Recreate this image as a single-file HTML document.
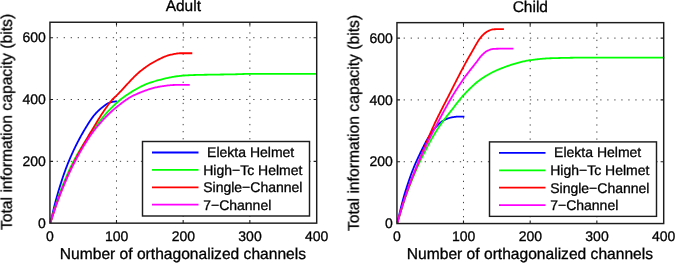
<!DOCTYPE html><html><head><meta charset="utf-8"><title>Information capacity</title>
<style>html,body{margin:0;padding:0;background:#fff}svg{display:block}text{text-rendering:geometricPrecision;font-family:"Liberation Sans",sans-serif;fill:#000;stroke:#000;stroke-width:0.3px}</style></head><body>
<svg width="675" height="263" viewBox="0 0 675 263">
<rect width="675" height="263" fill="#fff"/>
<defs><filter id="gs" x="0" y="0" width="100%" height="100%" filterUnits="userSpaceOnUse" color-interpolation-filters="sRGB"><feColorMatrix type="saturate" values="0"/></filter></defs>
<g transform="translate(0 0.0)">
<g stroke="#444" stroke-width="1.0" fill="none">
<path stroke-dasharray="1.3 5.75" d="M116.49 216.90V22.25"/>
<path stroke-dasharray="1.3 5.75" d="M183.17 216.90V22.25"/>
<path stroke-dasharray="1.3 5.75" d="M249.86 216.90V22.25"/>
<path stroke-dasharray="1.3 5.72" d="M56.65 161.33H314.70"/>
<path stroke-dasharray="1.3 5.72" d="M56.65 99.52H314.70"/>
<path stroke-dasharray="1.3 5.72" d="M56.65 37.70H314.70"/>
</g>
<g fill="none" stroke-width="1.8" stroke-linejoin="round">
<polyline stroke="#0000ff" points="50.50,222.50 50.92,220.65 51.34,218.82 51.76,217.00 52.18,215.19 52.60,213.41 53.02,211.65 53.44,209.90 53.86,208.18 54.28,206.48 54.69,204.81 55.11,203.17 55.53,201.55 55.95,199.97 56.37,198.41 56.79,196.89 57.21,195.40 57.63,193.95 58.05,192.53 58.47,191.11 58.89,189.72 59.31,188.33 59.73,186.96 60.15,185.61 60.57,184.27 60.99,182.95 61.41,181.64 61.83,180.35 62.25,179.07 62.67,177.81 63.08,176.56 63.50,175.33 63.92,174.12 64.34,172.92 64.76,171.74 65.18,170.58 65.60,169.43 66.02,168.30 66.44,167.19 66.86,166.09 67.28,165.01 67.70,163.95 68.12,162.91 68.54,161.88 68.96,160.87 69.38,159.88 69.80,158.89 70.22,157.92 70.64,156.95 71.06,156.00 71.47,155.05 71.89,154.11 72.31,153.19 72.73,152.27 73.15,151.36 73.57,150.46 73.99,149.57 74.41,148.69 74.83,147.82 75.25,146.96 75.67,146.10 76.09,145.25 76.51,144.42 76.93,143.58 77.35,142.76 77.77,141.95 78.19,141.14 78.61,140.34 79.03,139.54 79.45,138.76 79.86,137.98 80.28,137.21 80.70,136.44 81.12,135.68 81.54,134.93 81.96,134.19 82.38,133.45 82.80,132.71 83.22,131.99 83.64,131.27 84.06,130.55 84.48,129.84 84.90,129.13 85.32,128.44 85.74,127.74 86.16,127.05 86.58,126.36 87.00,125.68 87.42,125.00 87.83,124.33 88.25,123.66 88.67,123.00 89.09,122.35 89.51,121.70 89.93,121.07 90.35,120.44 90.77,119.82 91.19,119.21 91.61,118.61 92.03,118.03 92.45,117.45 92.87,116.89 93.29,116.34 93.71,115.80 94.13,115.28 94.55,114.78 94.97,114.29 95.39,113.81 95.81,113.35 96.22,112.90 96.64,112.45 97.06,112.02 97.48,111.60 97.90,111.18 98.32,110.78 98.74,110.38 99.16,110.00 99.58,109.62 100.00,109.25 100.42,108.88 100.84,108.53 101.26,108.18 101.68,107.84 102.10,107.50 102.52,107.17 102.94,106.84 103.36,106.52 103.78,106.19 104.20,105.86 104.61,105.54 105.03,105.23 105.45,104.92 105.87,104.63 106.29,104.34 106.71,104.08 107.13,103.82 107.55,103.59 107.97,103.37 108.39,103.17 108.81,103.00 109.23,102.84 109.65,102.69 110.07,102.54 110.49,102.40 110.91,102.27 111.33,102.16 111.75,102.05 112.17,101.95 112.59,101.86 113.00,101.79 113.42,101.72 113.84,101.66 114.26,101.60 114.68,101.54 115.10,101.49 115.52,101.44 115.94,101.40 116.36,101.37 116.78,101.34 117.20,101.33"/>
<polyline stroke="#00ff00" points="50.50,222.50 51.39,219.40 52.28,216.34 53.17,213.33 54.06,210.37 54.95,207.48 55.85,204.65 56.74,201.91 57.63,199.24 58.52,196.67 59.41,194.19 60.30,191.79 61.19,189.43 62.08,187.11 62.97,184.84 63.86,182.60 64.76,180.41 65.65,178.27 66.54,176.17 67.43,174.11 68.32,172.10 69.21,170.14 70.10,168.22 70.99,166.35 71.88,164.53 72.77,162.76 73.67,161.04 74.56,159.36 75.45,157.72 76.34,156.10 77.23,154.51 78.12,152.95 79.01,151.42 79.90,149.91 80.79,148.43 81.68,146.98 82.57,145.55 83.47,144.14 84.36,142.75 85.25,141.38 86.14,140.04 87.03,138.71 87.92,137.40 88.81,136.10 89.70,134.82 90.59,133.56 91.48,132.31 92.38,131.07 93.27,129.84 94.16,128.62 95.05,127.42 95.94,126.22 96.83,125.03 97.72,123.86 98.61,122.70 99.50,121.55 100.39,120.41 101.29,119.29 102.18,118.19 103.07,117.10 103.96,116.03 104.85,114.98 105.74,113.95 106.63,112.93 107.52,111.94 108.41,110.97 109.30,110.02 110.19,109.09 111.09,108.19 111.98,107.31 112.87,106.44 113.76,105.58 114.65,104.74 115.54,103.91 116.43,103.09 117.32,102.29 118.21,101.50 119.10,100.73 120.00,99.98 120.89,99.25 121.78,98.54 122.67,97.84 123.56,97.17 124.45,96.52 125.34,95.90 126.23,95.29 127.12,94.71 128.01,94.14 128.91,93.56 129.80,93.00 130.69,92.44 131.58,91.88 132.47,91.33 133.36,90.79 134.25,90.26 135.14,89.74 136.03,89.22 136.92,88.72 137.81,88.22 138.71,87.73 139.60,87.26 140.49,86.80 141.38,86.34 142.27,85.91 143.16,85.48 144.05,85.07 144.94,84.67 145.83,84.28 146.72,83.92 147.62,83.56 148.51,83.22 149.40,82.90 150.29,82.60 151.18,82.31 152.07,82.04 152.96,81.77 153.85,81.51 154.74,81.25 155.63,80.99 156.53,80.74 157.42,80.49 158.31,80.24 159.20,80.00 160.09,79.76 160.98,79.53 161.87,79.30 162.76,79.07 163.65,78.85 164.54,78.64 165.43,78.43 166.33,78.22 167.22,78.02 168.11,77.83 169.00,77.64 169.89,77.46 170.78,77.29 171.67,77.12 172.56,76.96 173.45,76.80 174.34,76.65 175.24,76.51 176.13,76.38 177.02,76.25 177.91,76.13 178.80,76.02 179.69,75.92 180.58,75.82 181.47,75.74 182.36,75.66 183.25,75.59 184.14,75.52 185.04,75.46 185.93,75.40 186.82,75.35 187.71,75.30 188.60,75.25 189.49,75.20 190.38,75.16 191.27,75.12 192.16,75.09 193.05,75.05 193.95,75.02 194.84,74.99 195.73,74.97 196.62,74.94 197.51,74.92 198.40,74.90 199.29,74.88 200.18,74.85 201.07,74.83 201.96,74.82 202.86,74.80 203.75,74.78 204.64,74.76 205.53,74.75 206.42,74.73 207.31,74.71 208.20,74.70 209.09,74.68 209.98,74.67 210.87,74.66 211.76,74.64 212.66,74.63 213.55,74.62 214.44,74.61 215.33,74.59 216.22,74.58 217.11,74.57 218.00,74.56 218.89,74.54 219.78,74.53 220.67,74.52 221.57,74.51 222.46,74.49 223.35,74.48 224.24,74.47 225.13,74.45 226.02,74.44 226.91,74.43 227.80,74.41 228.69,74.40 229.58,74.38 230.48,74.37 231.37,74.35 232.26,74.33 233.15,74.31 234.04,74.30 234.93,74.28 235.82,74.25 236.71,74.23 237.60,74.20 238.49,74.17 239.38,74.14 240.28,74.11 241.17,74.08 242.06,74.05 242.95,74.02 243.84,73.99 244.73,73.96 245.62,73.94 246.51,73.92 247.40,73.90 248.29,73.89 249.19,73.88 250.08,73.88 250.97,73.88 251.86,73.88 252.75,73.88 253.64,73.88 254.53,73.88 255.42,73.88 256.31,73.88 257.20,73.88 258.10,73.88 258.99,73.88 259.88,73.88 260.77,73.88 261.66,73.88 262.55,73.88 263.44,73.88 264.33,73.88 265.22,73.88 266.11,73.88 267.00,73.88 267.90,73.88 268.79,73.88 269.68,73.88 270.57,73.88 271.46,73.88 272.35,73.88 273.24,73.88 274.13,73.88 275.02,73.88 275.91,73.88 276.81,73.88 277.70,73.88 278.59,73.88 279.48,73.88 280.37,73.88 281.26,73.88 282.15,73.88 283.04,73.88 283.93,73.88 284.82,73.88 285.72,73.88 286.61,73.88 287.50,73.88 288.39,73.88 289.28,73.88 290.17,73.88 291.06,73.88 291.95,73.88 292.84,73.88 293.73,73.88 294.62,73.88 295.52,73.88 296.41,73.88 297.30,73.88 298.19,73.88 299.08,73.88 299.97,73.88 300.86,73.88 301.75,73.88 302.64,73.88 303.53,73.88 304.43,73.88 305.32,73.88 306.21,73.88 307.10,73.88 307.99,73.88 308.88,73.88 309.77,73.88 310.66,73.88 311.55,73.88 312.44,73.88 313.34,73.88 314.23,73.88 315.12,73.88 316.01,73.88 316.90,73.88"/>
<polyline stroke="#ff0000" points="50.50,222.50 51.39,219.66 52.28,216.86 53.18,214.10 54.07,211.37 54.96,208.69 55.85,206.06 56.74,203.48 57.63,200.95 58.53,198.49 59.42,196.08 60.31,193.75 61.20,191.47 62.09,189.22 62.98,187.01 63.88,184.83 64.77,182.69 65.66,180.59 66.55,178.51 67.44,176.47 68.33,174.46 69.23,172.48 70.12,170.54 71.01,168.62 71.90,166.73 72.79,164.87 73.68,163.03 74.58,161.22 75.47,159.44 76.36,157.69 77.25,155.96 78.14,154.26 79.03,152.59 79.93,150.93 80.82,149.30 81.71,147.69 82.60,146.10 83.49,144.52 84.38,142.96 85.28,141.41 86.17,139.87 87.06,138.35 87.95,136.83 88.84,135.33 89.73,133.83 90.63,132.33 91.52,130.84 92.41,129.35 93.30,127.86 94.19,126.37 95.08,124.89 95.98,123.42 96.87,121.95 97.76,120.50 98.65,119.07 99.54,117.65 100.43,116.25 101.33,114.86 102.22,113.50 103.11,112.16 104.00,110.85 104.89,109.55 105.78,108.25 106.68,106.96 107.57,105.69 108.46,104.45 109.35,103.24 110.24,102.08 111.13,100.98 112.03,99.94 112.92,98.98 113.81,98.10 114.70,97.27 115.59,96.45 116.48,95.62 117.38,94.73 118.27,93.83 119.16,92.91 120.05,91.97 120.94,91.02 121.83,90.07 122.73,89.10 123.62,88.13 124.51,87.16 125.40,86.18 126.29,85.20 127.18,84.23 128.08,83.26 128.97,82.29 129.86,81.34 130.75,80.39 131.64,79.45 132.54,78.53 133.43,77.62 134.32,76.73 135.21,75.86 136.10,75.00 136.99,74.15 137.89,73.31 138.78,72.51 139.67,71.76 140.56,71.04 141.45,70.34 142.34,69.66 143.24,68.98 144.13,68.31 145.02,67.66 145.91,67.02 146.80,66.39 147.69,65.78 148.59,65.19 149.48,64.60 150.37,64.04 151.26,63.49 152.15,62.95 153.04,62.44 153.94,61.94 154.83,61.46 155.72,60.99 156.61,60.52 157.50,60.06 158.39,59.60 159.29,59.14 160.18,58.70 161.07,58.26 161.96,57.84 162.85,57.43 163.74,57.04 164.64,56.67 165.53,56.31 166.42,55.98 167.31,55.67 168.20,55.39 169.09,55.14 169.99,54.91 170.88,54.71 171.77,54.51 172.66,54.31 173.55,54.12 174.44,53.94 175.34,53.77 176.23,53.62 177.12,53.49 178.01,53.38 178.90,53.31 179.79,53.27 180.69,53.27 181.58,53.27 182.47,53.27 183.36,53.27 184.25,53.27 185.14,53.27 186.04,53.27 186.93,53.27 187.82,53.27 188.71,53.27 189.60,53.27 190.49,53.27 191.39,53.27 192.28,53.27"/>
<polyline stroke="#ff00ff" points="50.50,222.50 51.38,219.74 52.25,217.02 53.13,214.33 54.00,211.68 54.88,209.07 55.75,206.51 56.63,204.00 57.51,201.54 58.38,199.14 59.26,196.81 60.13,194.54 61.01,192.32 61.89,190.14 62.76,187.99 63.64,185.86 64.51,183.77 65.39,181.71 66.26,179.69 67.14,177.69 68.02,175.73 68.89,173.81 69.77,171.92 70.64,170.06 71.52,168.25 72.39,166.47 73.27,164.73 74.15,163.03 75.02,161.36 75.90,159.73 76.77,158.12 77.65,156.53 78.53,154.95 79.40,153.39 80.28,151.85 81.15,150.34 82.03,148.84 82.90,147.36 83.78,145.90 84.66,144.46 85.53,143.05 86.41,141.66 87.28,140.30 88.16,138.95 89.03,137.63 89.91,136.34 90.79,135.08 91.66,133.84 92.54,132.62 93.41,131.44 94.29,130.28 95.17,129.15 96.04,128.05 96.92,126.97 97.79,125.92 98.67,124.87 99.54,123.85 100.42,122.84 101.30,121.85 102.17,120.87 103.05,119.92 103.92,118.98 104.80,118.05 105.67,117.14 106.55,116.25 107.43,115.37 108.30,114.51 109.18,113.66 110.05,112.83 110.93,112.02 111.81,111.22 112.68,110.44 113.56,109.67 114.43,108.91 115.31,108.18 116.18,107.45 117.06,106.74 117.94,106.04 118.81,105.33 119.69,104.64 120.56,103.95 121.44,103.28 122.31,102.61 123.19,101.95 124.07,101.31 124.94,100.68 125.82,100.06 126.69,99.46 127.57,98.88 128.45,98.31 129.32,97.77 130.20,97.25 131.07,96.74 131.95,96.27 132.82,95.81 133.70,95.39 134.58,94.98 135.45,94.59 136.33,94.20 137.20,93.82 138.08,93.44 138.96,93.07 139.83,92.70 140.71,92.34 141.58,91.99 142.46,91.65 143.33,91.31 144.21,90.97 145.09,90.65 145.96,90.33 146.84,90.03 147.71,89.73 148.59,89.44 149.46,89.16 150.34,88.88 151.22,88.62 152.09,88.37 152.97,88.13 153.84,87.90 154.72,87.68 155.60,87.47 156.47,87.28 157.35,87.09 158.22,86.92 159.10,86.76 159.97,86.62 160.85,86.48 161.73,86.35 162.60,86.21 163.48,86.08 164.35,85.95 165.23,85.83 166.10,85.70 166.98,85.59 167.86,85.48 168.73,85.38 169.61,85.28 170.48,85.20 171.36,85.13 172.24,85.07 173.11,85.02 173.99,84.98 174.86,84.96 175.74,84.96 176.61,84.96 177.49,84.96 178.37,84.96 179.24,84.96 180.12,84.96 180.99,84.96 181.87,84.96 182.74,84.96 183.62,84.96 184.50,84.96 185.37,84.96 186.25,84.96 187.12,84.96 188.00,84.96 188.88,84.96 189.75,84.96"/>
</g>
<g stroke="#1c1c1c" stroke-width="1.45" fill="none">
<rect x="49.95" y="22.25" width="266.75" height="200.9"/>
<path stroke-width="1.1" d="M116.49 223.15v-3.1M116.49 22.25v3.1M183.17 223.15v-3.1M183.17 22.25v3.1M249.86 223.15v-3.1M249.86 22.25v3.1M49.95 161.33h3.1M316.7 161.33h-3.1M49.95 99.52h3.1M316.7 99.52h-3.1M49.95 37.70h3.1M316.7 37.70h-3.1"/>
</g>
<g font-size="14.0" filter="url(#gs)">
<text x="49.95" y="240.6" text-anchor="middle">0</text>
<text x="116.64" y="240.6" text-anchor="middle">100</text>
<text x="183.32" y="240.6" text-anchor="middle">200</text>
<text x="250.01" y="240.6" text-anchor="middle">300</text>
<text x="316.70" y="240.6" text-anchor="middle">400</text>
<text x="45.75" y="227.85" text-anchor="end">0</text>
<text x="45.75" y="166.03" text-anchor="end">200</text>
<text x="45.75" y="104.22" text-anchor="end">400</text>
<text x="45.75" y="42.40" text-anchor="end">600</text>
</g>
<g font-size="15.5" filter="url(#gs)">
<text x="183.32" y="10.9" text-anchor="middle">Adult</text>
<text x="182.92" y="258.5" text-anchor="middle" font-size="15.6">Number of orthagonalized channels</text>
<text transform="translate(11.75 121.95) rotate(-90)" text-anchor="middle" font-size="15.7">Total information capacity (bits)</text>
</g>
<rect x="142.5" y="141.5" width="167" height="74.5" fill="#fff" stroke="#1c1c1c" stroke-width="1.45"/>
<path d="M152.00 152.50H198.50" stroke="#0000ff" stroke-width="1.8" fill="none"/>
<path d="M152.00 169.90H198.50" stroke="#00ff00" stroke-width="1.8" fill="none"/>
<path d="M152.00 187.30H198.50" stroke="#ff0000" stroke-width="1.8" fill="none"/>
<path d="M152.00 204.70H198.50" stroke="#ff00ff" stroke-width="1.8" fill="none"/>
<g font-size="14.0" filter="url(#gs)">
<text x="203.20" y="157.10"> Elekta Helmet</text>
<text x="203.20" y="174.65">High−Tc Helmet</text>
<text x="203.20" y="192.20">Single−Channel</text>
<text x="203.20" y="209.75">7−Channel</text>
</g>
</g>
<g transform="translate(0 0.4)">
<g stroke="#444" stroke-width="1.0" fill="none">
<path stroke-dasharray="1.3 5.75" d="M463.49 216.90V22.25"/>
<path stroke-dasharray="1.3 5.75" d="M530.18 216.90V22.25"/>
<path stroke-dasharray="1.3 5.75" d="M596.86 216.90V22.25"/>
<path stroke-dasharray="1.3 5.72" d="M403.65 161.33H661.70"/>
<path stroke-dasharray="1.3 5.72" d="M403.65 99.52H661.70"/>
<path stroke-dasharray="1.3 5.72" d="M403.65 37.70H661.70"/>
</g>
<g fill="none" stroke-width="1.8" stroke-linejoin="round">
<polyline stroke="#0000ff" points="397.50,222.10 397.92,220.23 398.34,218.37 398.76,216.52 399.18,214.70 399.60,212.89 400.02,211.11 400.45,209.35 400.87,207.61 401.29,205.91 401.71,204.23 402.13,202.58 402.55,200.97 402.97,199.40 403.39,197.86 403.81,196.36 404.23,194.90 404.65,193.48 405.07,192.10 405.49,190.73 405.91,189.37 406.34,188.03 406.76,186.71 407.18,185.41 407.60,184.12 408.02,182.85 408.44,181.59 408.86,180.35 409.28,179.13 409.70,177.93 410.12,176.74 410.54,175.56 410.96,174.41 411.38,173.27 411.81,172.15 412.23,171.04 412.65,169.95 413.07,168.88 413.49,167.82 413.91,166.78 414.33,165.76 414.75,164.75 415.17,163.76 415.59,162.79 416.01,161.83 416.43,160.89 416.85,159.97 417.28,159.05 417.70,158.13 418.12,157.22 418.54,156.31 418.96,155.41 419.38,154.51 419.80,153.62 420.22,152.73 420.64,151.85 421.06,150.98 421.48,150.12 421.90,149.26 422.32,148.40 422.74,147.56 423.17,146.72 423.59,145.90 424.01,145.08 424.43,144.27 424.85,143.47 425.27,142.67 425.69,141.89 426.11,141.12 426.53,140.36 426.95,139.61 427.37,138.87 427.79,138.14 428.21,137.42 428.64,136.72 429.06,136.03 429.48,135.35 429.90,134.68 430.32,134.03 430.74,133.38 431.16,132.76 431.58,132.14 432.00,131.55 432.42,130.96 432.84,130.39 433.26,129.84 433.68,129.30 434.11,128.78 434.53,128.27 434.95,127.78 435.37,127.30 435.79,126.83 436.21,126.37 436.63,125.91 437.05,125.47 437.47,125.03 437.89,124.59 438.31,124.17 438.73,123.76 439.15,123.36 439.57,122.98 440.00,122.60 440.42,122.24 440.84,121.89 441.26,121.56 441.68,121.24 442.10,120.94 442.52,120.65 442.94,120.38 443.36,120.13 443.78,119.89 444.20,119.68 444.62,119.47 445.04,119.26 445.47,119.07 445.89,118.87 446.31,118.69 446.73,118.51 447.15,118.33 447.57,118.17 447.99,118.01 448.41,117.86 448.83,117.72 449.25,117.59 449.67,117.46 450.09,117.35 450.51,117.24 450.94,117.15 451.36,117.06 451.78,116.98 452.20,116.91 452.62,116.83 453.04,116.76 453.46,116.69 453.88,116.62 454.30,116.55 454.72,116.49 455.14,116.44 455.56,116.39 455.98,116.35 456.40,116.31 456.83,116.28 457.25,116.26 457.67,116.25 458.09,116.25 458.51,116.25 458.93,116.25 459.35,116.25 459.77,116.25 460.19,116.25 460.61,116.25 461.03,116.25 461.45,116.25 461.87,116.25 462.30,116.25 462.72,116.25 463.14,116.25 463.56,116.25 463.98,116.25 464.40,116.25"/>
<polyline stroke="#00ff00" points="397.50,222.10 398.39,219.05 399.28,216.03 400.18,213.06 401.07,210.14 401.96,207.28 402.85,204.47 403.74,201.73 404.63,199.06 405.53,196.47 406.42,193.95 407.31,191.51 408.20,189.11 409.09,186.75 409.99,184.43 410.88,182.16 411.77,179.92 412.66,177.72 413.55,175.57 414.45,173.45 415.34,171.37 416.23,169.32 417.12,167.31 418.01,165.34 418.90,163.40 419.80,161.50 420.69,159.63 421.58,157.78 422.47,155.95 423.36,154.14 424.26,152.36 425.15,150.59 426.04,148.85 426.93,147.13 427.82,145.44 428.71,143.77 429.61,142.12 430.50,140.50 431.39,138.91 432.28,137.34 433.17,135.80 434.07,134.29 434.96,132.80 435.85,131.34 436.74,129.91 437.63,128.51 438.53,127.14 439.42,125.80 440.31,124.51 441.20,123.25 442.09,122.01 442.98,120.81 443.88,119.62 444.77,118.46 445.66,117.30 446.55,116.16 447.44,115.03 448.34,113.90 449.23,112.77 450.12,111.64 451.01,110.50 451.90,109.35 452.80,108.19 453.69,107.02 454.58,105.85 455.47,104.67 456.36,103.50 457.25,102.35 458.15,101.20 459.04,100.07 459.93,98.96 460.82,97.88 461.71,96.83 462.61,95.81 463.50,94.82 464.39,93.87 465.28,92.92 466.17,91.99 467.06,91.06 467.96,90.15 468.85,89.25 469.74,88.36 470.63,87.49 471.52,86.63 472.42,85.79 473.31,84.97 474.20,84.16 475.09,83.38 475.98,82.62 476.88,81.87 477.77,81.15 478.66,80.46 479.55,79.79 480.44,79.14 481.33,78.52 482.23,77.91 483.12,77.32 484.01,76.73 484.90,76.17 485.79,75.62 486.69,75.08 487.58,74.55 488.47,74.04 489.36,73.54 490.25,73.05 491.14,72.57 492.04,72.11 492.93,71.66 493.82,71.22 494.71,70.79 495.60,70.37 496.50,69.96 497.39,69.57 498.28,69.19 499.17,68.82 500.06,68.47 500.96,68.12 501.85,67.78 502.74,67.44 503.63,67.11 504.52,66.78 505.41,66.46 506.31,66.13 507.20,65.80 508.09,65.48 508.98,65.15 509.87,64.84 510.77,64.52 511.66,64.22 512.55,63.93 513.44,63.65 514.33,63.38 515.23,63.13 516.12,62.89 517.01,62.64 517.90,62.40 518.79,62.17 519.68,61.94 520.58,61.71 521.47,61.49 522.36,61.27 523.25,61.06 524.14,60.86 525.04,60.67 525.93,60.49 526.82,60.31 527.71,60.15 528.60,60.00 529.49,59.86 530.39,59.74 531.28,59.62 532.17,59.50 533.06,59.38 533.95,59.27 534.85,59.16 535.74,59.05 536.63,58.94 537.52,58.84 538.41,58.74 539.31,58.64 540.20,58.55 541.09,58.46 541.98,58.38 542.87,58.30 543.76,58.23 544.66,58.16 545.55,58.10 546.44,58.04 547.33,57.98 548.22,57.94 549.12,57.90 550.01,57.86 550.90,57.83 551.79,57.81 552.68,57.78 553.57,57.75 554.47,57.73 555.36,57.70 556.25,57.68 557.14,57.65 558.03,57.63 558.93,57.60 559.82,57.58 560.71,57.56 561.60,57.54 562.49,57.52 563.39,57.50 564.28,57.48 565.17,57.46 566.06,57.44 566.95,57.43 567.84,57.41 568.74,57.39 569.63,57.38 570.52,57.36 571.41,57.35 572.30,57.34 573.20,57.32 574.09,57.31 574.98,57.30 575.87,57.29 576.76,57.28 577.65,57.27 578.55,57.27 579.44,57.26 580.33,57.25 581.22,57.25 582.11,57.24 583.01,57.24 583.90,57.24 584.79,57.23 585.68,57.23 586.57,57.23 587.47,57.23 588.36,57.23 589.25,57.23 590.14,57.23 591.03,57.22 591.92,57.22 592.82,57.22 593.71,57.22 594.60,57.22 595.49,57.22 596.38,57.22 597.28,57.22 598.17,57.21 599.06,57.21 599.95,57.21 600.84,57.21 601.74,57.21 602.63,57.21 603.52,57.21 604.41,57.21 605.30,57.21 606.19,57.20 607.09,57.20 607.98,57.20 608.87,57.20 609.76,57.20 610.65,57.20 611.55,57.20 612.44,57.20 613.33,57.20 614.22,57.20 615.11,57.19 616.00,57.19 616.90,57.19 617.79,57.19 618.68,57.19 619.57,57.19 620.46,57.19 621.36,57.19 622.25,57.19 623.14,57.19 624.03,57.19 624.92,57.19 625.82,57.19 626.71,57.19 627.60,57.18 628.49,57.18 629.38,57.18 630.27,57.18 631.17,57.18 632.06,57.18 632.95,57.18 633.84,57.18 634.73,57.18 635.63,57.18 636.52,57.18 637.41,57.18 638.30,57.18 639.19,57.18 640.08,57.18 640.98,57.18 641.87,57.18 642.76,57.18 643.65,57.18 644.54,57.18 645.44,57.18 646.33,57.18 647.22,57.18 648.11,57.17 649.00,57.17 649.90,57.17 650.79,57.17 651.68,57.17 652.57,57.17 653.46,57.17 654.35,57.17 655.25,57.17 656.14,57.17 657.03,57.17 657.92,57.17 658.81,57.17 659.71,57.17 660.60,57.17 661.49,57.17 662.38,57.17 663.27,57.17 664.16,57.17"/>
<polyline stroke="#ff0000" points="397.50,222.10 398.17,219.73 398.84,217.38 399.51,215.06 400.18,212.76 400.85,210.50 401.52,208.26 402.18,206.06 402.85,203.89 403.52,201.76 404.19,199.66 404.86,197.61 405.53,195.60 406.20,193.64 406.87,191.72 407.54,189.85 408.21,188.00 408.88,186.19 409.55,184.41 410.21,182.66 410.88,180.94 411.55,179.23 412.22,177.54 412.89,175.87 413.56,174.21 414.23,172.57 414.90,170.92 415.57,169.29 416.24,167.65 416.91,166.01 417.58,164.37 418.24,162.72 418.91,161.06 419.58,159.38 420.25,157.70 420.92,156.02 421.59,154.33 422.26,152.64 422.93,150.96 423.60,149.27 424.27,147.59 424.94,145.92 425.61,144.25 426.27,142.59 426.94,140.94 427.61,139.31 428.28,137.69 428.95,136.08 429.62,134.49 430.29,132.92 430.96,131.37 431.63,129.84 432.30,128.33 432.97,126.85 433.64,125.39 434.31,123.95 434.97,122.52 435.64,121.11 436.31,119.72 436.98,118.34 437.65,116.97 438.32,115.61 438.99,114.26 439.66,112.93 440.33,111.60 441.00,110.28 441.67,108.96 442.34,107.65 443.00,106.34 443.67,105.04 444.34,103.74 445.01,102.44 445.68,101.14 446.35,99.84 447.02,98.54 447.69,97.23 448.36,95.92 449.03,94.60 449.70,93.28 450.37,91.96 451.03,90.64 451.70,89.32 452.37,88.00 453.04,86.68 453.71,85.36 454.38,84.04 455.05,82.73 455.72,81.42 456.39,80.11 457.06,78.80 457.73,77.50 458.40,76.20 459.06,74.90 459.73,73.61 460.40,72.33 461.07,71.05 461.74,69.77 462.41,68.51 463.08,67.25 463.75,65.99 464.42,64.75 465.09,63.51 465.76,62.28 466.43,61.06 467.09,59.86 467.76,58.66 468.43,57.48 469.10,56.32 469.77,55.18 470.44,54.04 471.11,52.88 471.78,51.71 472.45,50.52 473.12,49.32 473.79,48.13 474.46,46.93 475.13,45.74 475.79,44.58 476.46,43.43 477.13,42.31 477.80,41.22 478.47,40.17 479.14,39.17 479.81,38.22 480.48,37.33 481.15,36.50 481.82,35.74 482.49,35.04 483.16,34.37 483.82,33.74 484.49,33.14 485.16,32.57 485.83,32.06 486.50,31.59 487.17,31.17 487.84,30.81 488.51,30.48 489.18,30.16 489.85,29.86 490.52,29.59 491.19,29.36 491.85,29.17 492.52,29.05 493.19,28.98 493.86,28.92 494.53,28.87 495.20,28.83 495.87,28.80 496.54,28.78 497.21,28.77 497.88,28.77 498.55,28.77 499.22,28.77 499.88,28.77 500.55,28.77 501.22,28.77 501.89,28.77 502.56,28.77 503.23,28.77 503.90,28.77"/>
<polyline stroke="#ff00ff" points="397.50,222.10 398.23,219.52 398.96,216.97 399.69,214.44 400.42,211.95 401.14,209.49 401.87,207.07 402.60,204.70 403.33,202.36 404.06,200.07 404.79,197.83 405.52,195.64 406.25,193.50 406.98,191.41 407.71,189.35 408.43,187.32 409.16,185.32 409.89,183.35 410.62,181.41 411.35,179.50 412.08,177.61 412.81,175.75 413.54,173.91 414.27,172.10 415.00,170.31 415.72,168.54 416.45,166.79 417.18,165.05 417.91,163.34 418.64,161.65 419.37,159.97 420.10,158.31 420.83,156.68 421.56,155.06 422.29,153.46 423.01,151.88 423.74,150.32 424.47,148.77 425.20,147.24 425.93,145.72 426.66,144.21 427.39,142.72 428.12,141.24 428.85,139.77 429.58,138.31 430.30,136.86 431.03,135.41 431.76,133.97 432.49,132.54 433.22,131.11 433.95,129.69 434.68,128.27 435.41,126.86 436.14,125.44 436.87,124.03 437.59,122.63 438.32,121.23 439.05,119.83 439.78,118.45 440.51,117.06 441.24,115.69 441.97,114.32 442.70,112.96 443.43,111.60 444.16,110.26 444.88,108.92 445.61,107.59 446.34,106.28 447.07,104.97 447.80,103.67 448.53,102.38 449.26,101.11 449.99,99.85 450.72,98.59 451.45,97.36 452.17,96.13 452.90,94.92 453.63,93.72 454.36,92.53 455.09,91.36 455.82,90.20 456.55,89.05 457.28,87.91 458.01,86.79 458.74,85.67 459.46,84.57 460.19,83.48 460.92,82.40 461.65,81.34 462.38,80.28 463.11,79.24 463.84,78.20 464.57,77.18 465.30,76.17 466.03,75.18 466.75,74.20 467.48,73.23 468.21,72.27 468.94,71.33 469.67,70.38 470.40,69.45 471.13,68.52 471.86,67.59 472.59,66.67 473.32,65.74 474.04,64.82 474.77,63.90 475.50,62.97 476.23,62.04 476.96,61.09 477.69,60.11 478.42,59.11 479.15,58.12 479.88,57.14 480.60,56.22 481.33,55.37 482.06,54.61 482.79,53.92 483.52,53.24 484.25,52.60 484.98,51.99 485.71,51.43 486.44,50.94 487.17,50.52 487.89,50.18 488.62,49.88 489.35,49.59 490.08,49.31 490.81,49.06 491.54,48.84 492.27,48.66 493.00,48.53 493.73,48.45 494.46,48.42 495.18,48.40 495.91,48.38 496.64,48.37 497.37,48.35 498.10,48.33 498.83,48.32 499.56,48.30 500.29,48.29 501.02,48.28 501.75,48.27 502.47,48.26 503.20,48.25 503.93,48.24 504.66,48.23 505.39,48.22 506.12,48.22 506.85,48.21 507.58,48.21 508.31,48.20 509.04,48.20 509.76,48.19 510.49,48.19 511.22,48.19 511.95,48.19 512.68,48.19 513.41,48.19"/>
</g>
<g stroke="#1c1c1c" stroke-width="1.45" fill="none">
<rect x="396.95" y="22.25" width="266.75" height="200.9"/>
<path stroke-width="1.1" d="M463.49 223.15v-3.1M463.49 22.25v3.1M530.18 223.15v-3.1M530.18 22.25v3.1M596.86 223.15v-3.1M596.86 22.25v3.1M396.95 161.33h3.1M663.7 161.33h-3.1M396.95 99.52h3.1M663.7 99.52h-3.1M396.95 37.70h3.1M663.7 37.70h-3.1"/>
</g>
<g font-size="14.0" filter="url(#gs)">
<text x="396.95" y="240.6" text-anchor="middle">0</text>
<text x="463.64" y="240.6" text-anchor="middle">100</text>
<text x="530.33" y="240.6" text-anchor="middle">200</text>
<text x="597.01" y="240.6" text-anchor="middle">300</text>
<text x="663.70" y="240.6" text-anchor="middle">400</text>
<text x="392.75" y="227.85" text-anchor="end">0</text>
<text x="392.75" y="166.03" text-anchor="end">200</text>
<text x="392.75" y="104.22" text-anchor="end">400</text>
<text x="392.75" y="42.40" text-anchor="end">600</text>
</g>
<g font-size="15.5" filter="url(#gs)">
<text x="530.33" y="11.200000000000001" text-anchor="middle">Child</text>
<text x="529.93" y="258.5" text-anchor="middle" font-size="15.6">Number of orthagonalized channels</text>
<text transform="translate(358.75 122.60) rotate(-90)" text-anchor="middle" font-size="15.7">Total information capacity (bits)</text>
</g>
<rect x="489.5" y="141.5" width="167" height="74.5" fill="#fff" stroke="#1c1c1c" stroke-width="1.45"/>
<path d="M499.00 152.50H545.50" stroke="#0000ff" stroke-width="1.8" fill="none"/>
<path d="M499.00 169.90H545.50" stroke="#00ff00" stroke-width="1.8" fill="none"/>
<path d="M499.00 187.30H545.50" stroke="#ff0000" stroke-width="1.8" fill="none"/>
<path d="M499.00 204.70H545.50" stroke="#ff00ff" stroke-width="1.8" fill="none"/>
<g font-size="14.0" filter="url(#gs)">
<text x="550.20" y="157.10"> Elekta Helmet</text>
<text x="550.20" y="174.65">High−Tc Helmet</text>
<text x="550.20" y="192.20">Single−Channel</text>
<text x="550.20" y="209.75">7−Channel</text>
</g>
</g>
</svg></body></html>
